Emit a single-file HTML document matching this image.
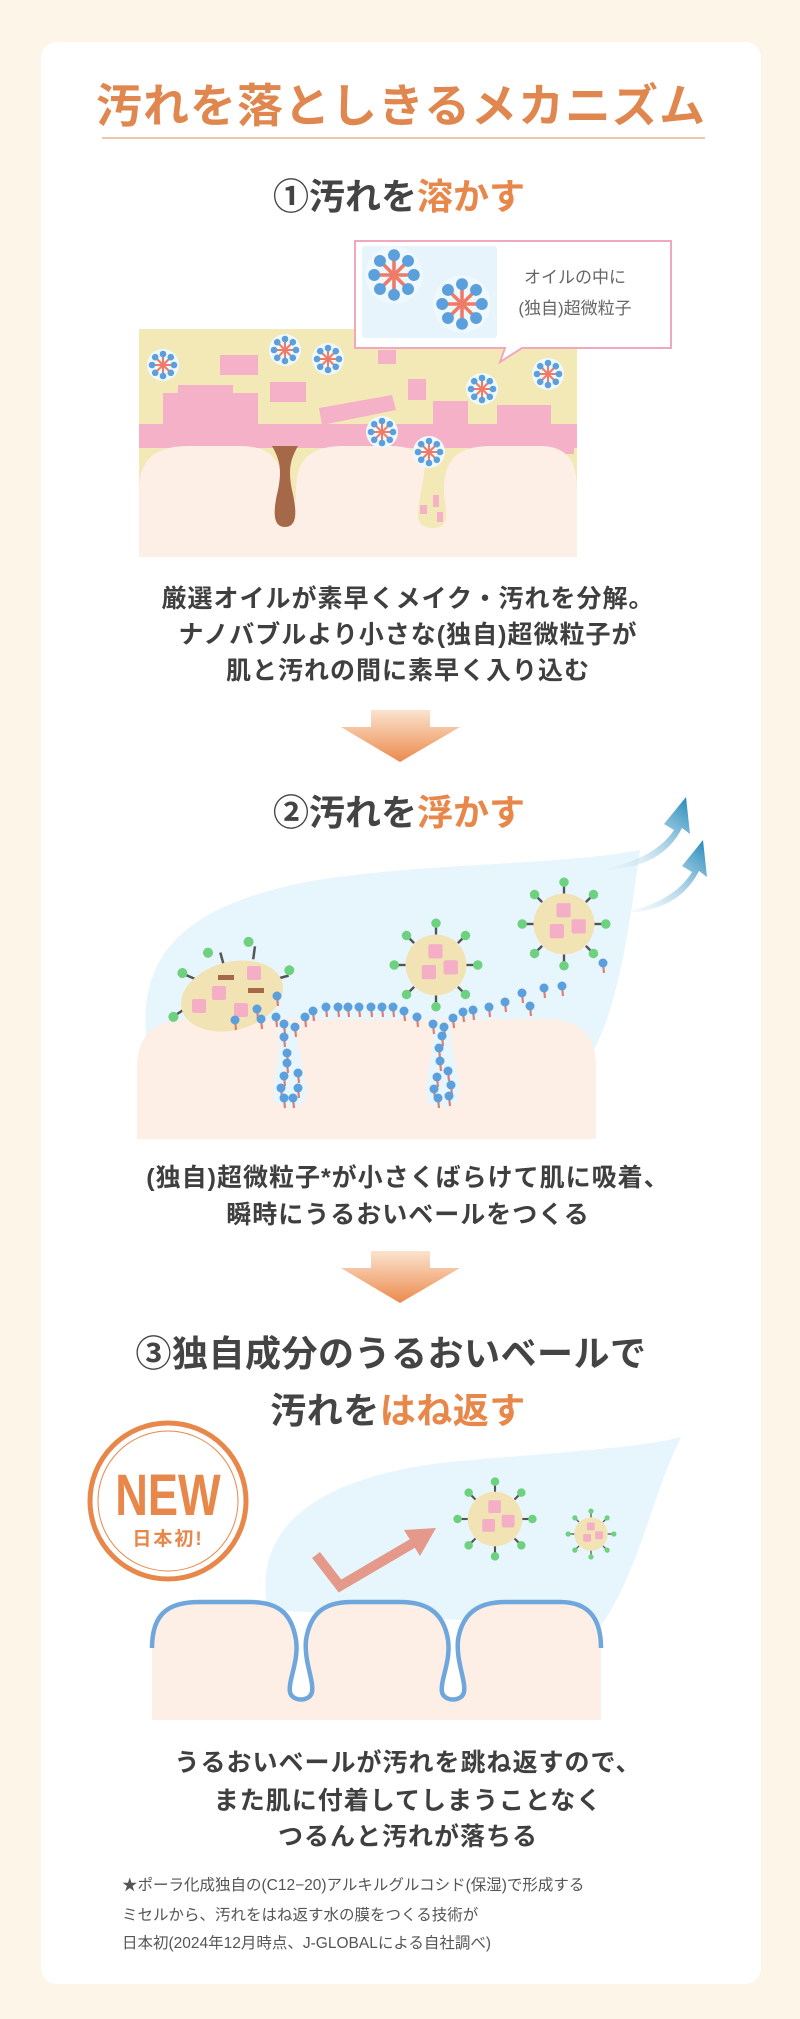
<!DOCTYPE html>
<html><head><meta charset="utf-8"><style>
html,body{margin:0;padding:0;background:#fdf6e8;}
svg{display:block}
text{font-family:"Liberation Sans","Noto Sans CJK JP",sans-serif;}
</style></head><body>
<svg width="800" height="2019" viewBox="0 0 800 2019" xmlns="http://www.w3.org/2000/svg">
<defs>
<g id="m">
 <circle r="16" fill="#eef8fd"/>
 <g stroke="#ee7a68" stroke-width="2">
  <line x1="-10" y1="0" x2="10" y2="0"/><line x1="0" y1="-10" x2="0" y2="10"/>
  <line x1="-7" y1="-7" x2="7" y2="7"/><line x1="-7" y1="7" x2="7" y2="-7"/>
 </g>
 <g fill="#5b9fdc">
  <circle cx="11" cy="0" r="3.3"/><circle cx="-11" cy="0" r="3.3"/><circle cx="0" cy="11" r="3.3"/><circle cx="0" cy="-11" r="3.3"/>
  <circle cx="7.8" cy="7.8" r="3.3"/><circle cx="-7.8" cy="7.8" r="3.3"/><circle cx="7.8" cy="-7.8" r="3.3"/><circle cx="-7.8" cy="-7.8" r="3.3"/>
 </g>
</g>
<g id="p">
 <g stroke="#555" stroke-width="2.5">
  <line x1="0" y1="-32" x2="0" y2="-42"/><line x1="0" y1="32" x2="0" y2="42"/>
  <line x1="-32" y1="0" x2="-42" y2="0"/><line x1="32" y1="0" x2="42" y2="0"/>
  <line x1="23" y1="23" x2="30" y2="30"/><line x1="-23" y1="23" x2="-30" y2="30"/>
  <line x1="23" y1="-23" x2="30" y2="-30"/><line x1="-23" y1="-23" x2="-30" y2="-30"/>
 </g>
 <circle r="32" fill="#f1e3b3"/>
 <g fill="#6dd17f">
  <circle cx="0" cy="-44" r="5"/><circle cx="0" cy="44" r="5"/><circle cx="-44" cy="0" r="5"/><circle cx="44" cy="0" r="5"/>
  <circle cx="31" cy="31" r="5"/><circle cx="-31" cy="31" r="5"/><circle cx="31" cy="-31" r="5"/><circle cx="-31" cy="-31" r="5"/>
 </g>
 <g fill="#f4afc6">
  <rect x="-8" y="-22" width="15" height="15" rx="2"/><rect x="-15" y="0" width="15" height="15" rx="2"/><rect x="8" y="-5" width="15" height="15" rx="2"/>
 </g>
</g>
<g id="d"><line x1="0" y1="0" x2="1" y2="10" stroke="#e07f6e" stroke-width="2.2"/><circle r="4.5" fill="#5b9fdc"/></g>
<linearGradient id="ga" x1="0" y1="0" x2="0" y2="1"><stop offset="0" stop-color="#fbe3cf"/><stop offset="1" stop-color="#ec8a4c"/></linearGradient>
<linearGradient id="gb" x1="0" y1="1" x2="1" y2="0"><stop offset="0" stop-color="#e8f4fb" stop-opacity="0.2"/><stop offset="1" stop-color="#1e86b8"/></linearGradient>
</defs>

<rect x="41" y="42" width="720" height="1942" rx="16" fill="#fff"/>

<text x="401" y="122" text-anchor="middle" font-size="46" font-weight="bold" fill="#e0874f" letter-spacing="1">汚れを落としきるメカニズム</text>
<line x1="102" y1="138" x2="705" y2="138" stroke="#e8b48e" stroke-width="1.5"/>

<text x="399" y="209" text-anchor="middle" font-size="36" font-weight="bold" fill="#444">①汚れを<tspan fill="#e8874a">溶かす</tspan></text>

<!-- illustration 1 -->
<rect x="139" y="329" width="438" height="228" fill="#f3e9b7"/>
<g fill="#f4b1c8">
 <rect x="163" y="393" width="95" height="55"/><rect x="178" y="385" width="55" height="10"/>
 <rect x="139" y="424" width="438" height="24"/>
 <rect x="220" y="355" width="38" height="20"/><rect x="270" y="382" width="36" height="20"/>
 <rect x="378" y="350" width="18" height="14"/><rect x="408" y="379" width="18" height="21"/>
 <rect x="433" y="401" width="35" height="23"/><rect x="497" y="405" width="54" height="20"/>
 <rect x="469" y="424" width="105" height="30"/>
 <polygon points="319,408 392,395 396,410 322,425"/>
</g>
<path d="M139,557 L139,490 C139,455 160,446 190,446 L240,446 C270,446 283,460 283,490 L283,557 Z" fill="#fdeee6"/>
<path d="M296,557 L296,490 C296,455 315,446 345,446 L390,446 C420,446 431,460 431,490 L431,557 Z" fill="#fdeee6"/>
<path d="M444,557 L444,490 C444,455 462,446 492,446 L540,446 C570,446 577,465 577,490 L577,557 Z" fill="#fdeee6"/>
<rect x="139" y="500" width="438" height="57" fill="#fdeee6"/>
<path d="M272,446 L298,446 C290,460 288,470 292,490 C298,515 296,527 285,527 C274,527 272,515 278,490 C282,470 280,460 272,446 Z" fill="#a5694a"/>
<path d="M425,460 L440,460 C440,480 446,500 446,515 C446,525 440,528 432,528 C424,528 418,524 418,515 C418,500 425,480 425,460 Z" fill="#f3e9b7"/>
<rect x="433" y="495" width="6" height="12" fill="#f4b1c8"/><rect x="420" y="505" width="7" height="9" fill="#f4b1c8"/><rect x="437" y="512" width="6" height="10" fill="#f4b1c8"/>
<use href="#m" transform="translate(163,365)"/><use href="#m" transform="translate(285,350)"/>
<use href="#m" transform="translate(328,359)"/><use href="#m" transform="translate(482,389)"/>
<use href="#m" transform="translate(548,374)"/><use href="#m" transform="translate(382,432)"/>
<use href="#m" transform="translate(429,452)"/>

<!-- callout -->
<path d="M355,241 L671,241 L671,348 L522,348 L500,362 L505,348 L355,348 Z" fill="#fff" stroke="#f0a8bf" stroke-width="2"/>
<rect x="362" y="246" width="135" height="92" rx="3" fill="#e7f4fb"/>
<use href="#m" transform="translate(394,275) scale(1.8)"/>
<use href="#m" transform="translate(462,304) scale(1.8)"/>
<text x="575" y="283" text-anchor="middle" font-size="17" fill="#666">オイルの中に</text>
<text x="575" y="314" text-anchor="middle" font-size="17" fill="#666">(独自)超微粒子</text>

<g font-size="25" font-weight="bold" fill="#3f3f3f" text-anchor="middle" letter-spacing="1">
<text x="408" y="607">厳選オイルが素早くメイク・汚れを分解。</text>
<text x="408" y="643">ナノバブルより小さな(独自)超微粒子が</text>
<text x="408" y="679">肌と汚れの間に素早く入り込む</text>
</g>

<!-- arrow 1 -->
<path d="M371,710 L430,710 L430,727 L460,727 L400,762 L341,727 L371,727 Z" fill="url(#ga)"/>

<text x="399" y="825" text-anchor="middle" font-size="36" font-weight="bold" fill="#444">②汚れを<tspan fill="#e8874a">浮かす</tspan></text>

<!-- illustration 2 -->
<path d="M147,1045 C135,950 190,900 330,878 C450,862 560,865 640,850 C630,920 620,1000 594,1050 Z" fill="#e7f5fc"/>
<path d="M600,870 C640,862 662,848 674,830 L664,824 L686,797 L690,834 L682,828 C668,856 640,870 600,870 Z" fill="url(#gb)"/>
<path d="M620,913 C655,907 680,892 692,872 L682,866 L703,840 L707,877 L699,871 C685,898 660,913 620,913 Z" fill="url(#gb)"/>
<path d="M137,1139 L137,1068 C137,1035 155,1019 190,1019 L545,1019 C580,1019 596,1035 596,1068 L596,1139 Z" fill="#fdeee6"/>
<path d="M278,1022 L296,1022 C296,1050 308,1080 306,1098 C304,1110 276,1110 274,1098 C272,1080 282,1050 278,1022 Z" fill="#e7f5fc"/>
<path d="M432,1022 L450,1022 C450,1050 462,1080 458,1098 C456,1110 428,1110 426,1098 C424,1080 436,1050 432,1022 Z" fill="#e7f5fc"/>
<g transform="translate(232,996) rotate(-15)">
 <g stroke="#555" stroke-width="2.5"><line x1="-48" y1="0" x2="-60" y2="4"/><line x1="-30" y1="-25" x2="-40" y2="-33"/><line x1="0" y1="-33" x2="0" y2="-45"/><line x1="30" y1="-30" x2="35" y2="-42"/><line x1="48" y1="-5" x2="60" y2="-5"/></g>
 <ellipse rx="52" ry="34" fill="#f1e3b3"/>
 <g fill="#6dd17f"><circle cx="-62" cy="5" r="5"/><circle cx="-42" cy="-35" r="5"/><circle cx="-12" cy="-48" r="5"/><circle cx="30" cy="-48" r="5"/><circle cx="62" cy="-10" r="5"/></g>
</g>
<g fill="#f4afc6"><rect x="192" y="999" width="14" height="14" rx="2"/><rect x="212" y="986" width="14" height="14" rx="2"/><rect x="234" y="1003" width="14" height="14" rx="2"/><rect x="247" y="966" width="14" height="14" rx="2"/></g>
<g fill="#a5694a"><rect x="218" y="975" width="16" height="5"/><rect x="248" y="988" width="16" height="5"/></g>
<use href="#p" transform="translate(436,965) scale(0.95)"/>
<use href="#p" transform="translate(564,924) scale(0.95)"/>
<g>
<use href="#d" x="305" y="1017"/><use href="#d" x="313" y="1011"/><use href="#d" x="326" y="1007"/><use href="#d" x="338" y="1007"/><use href="#d" x="348" y="1007"/><use href="#d" x="359" y="1007"/><use href="#d" x="371" y="1007"/><use href="#d" x="382" y="1007"/><use href="#d" x="393" y="1007"/><use href="#d" x="404" y="1011"/><use href="#d" x="417" y="1017"/>
<use href="#d" x="453" y="1018"/><use href="#d" x="463" y="1012"/><use href="#d" x="473" y="1010"/><use href="#d" x="489" y="1007"/><use href="#d" x="505" y="1002"/><use href="#d" x="522" y="993"/><use href="#d" x="544" y="988"/><use href="#d" x="562" y="986"/><use href="#d" x="530" y="1006"/><use href="#d" x="603" y="963"/>
<use href="#d" x="277" y="996"/><use href="#d" x="257" y="1009"/><use href="#d" x="261" y="1019"/><use href="#d" x="235" y="1020"/><use href="#d" x="276" y="1017"/><use href="#d" x="284" y="1024"/><use href="#d" x="295" y="1027"/><use href="#d" x="284" y="1037"/><use href="#d" x="287" y="1053"/><use href="#d" x="287" y="1063"/><use href="#d" x="284" y="1076"/><use href="#d" x="298" y="1073"/><use href="#d" x="281" y="1088"/><use href="#d" x="298" y="1088"/><use href="#d" x="284" y="1098"/><use href="#d" x="293" y="1098"/>
<use href="#d" x="433" y="1024"/><use href="#d" x="444" y="1027"/><use href="#d" x="442" y="1036"/><use href="#d" x="439" y="1048"/><use href="#d" x="440" y="1061"/><use href="#d" x="437" y="1077"/><use href="#d" x="448" y="1071"/><use href="#d" x="434" y="1089"/><use href="#d" x="451" y="1085"/><use href="#d" x="438" y="1098"/><use href="#d" x="449" y="1096"/>
</g>

<g font-size="25" font-weight="bold" fill="#3f3f3f" text-anchor="middle" letter-spacing="1">
<text x="408" y="1186">(独自)超微粒子*が小さくばらけて肌に吸着、</text>
<text x="408" y="1223">瞬時にうるおいベールをつくる</text>
</g>

<!-- arrow 2 -->
<path d="M371,1251 L430,1251 L430,1268 L460,1268 L400,1303 L341,1268 L371,1268 Z" fill="url(#ga)"/>

<g font-size="36" font-weight="bold" fill="#444" text-anchor="middle" letter-spacing="0.5">
<text x="391" y="1366">③独自成分のうるおいベールで</text>
<text x="398" y="1423">汚れを<tspan fill="#e8874a">はね返す</tspan></text>
</g>

<!-- illustration 3 -->
<path d="M268,1610 C250,1520 330,1475 450,1462 C560,1452 640,1448 681,1437 C650,1500 640,1570 600,1627 Z" fill="#e7f5fc"/>
<path d="M152,1720 L152,1640 C152,1612 170,1602 200,1602 L250,1602 C280,1602 292,1615 296,1640 C299,1662 288,1680 290,1692 C292,1702 310,1702 312,1692 C314,1680 304,1662 306,1640 C310,1615 322,1602 352,1602 L400,1602 C430,1602 444,1615 448,1640 C451,1662 440,1680 442,1692 C444,1702 462,1702 464,1692 C466,1680 456,1662 458,1640 C462,1615 476,1602 506,1602 L560,1602 C590,1602 601,1620 601,1640 L601,1720 Z" fill="#fdeee6"/>
<path d="M152,1648 C152,1612 170,1602 200,1602 L250,1602 C280,1602 292,1615 296,1640 C299,1662 288,1680 290,1692 C292,1702 310,1702 312,1692 C314,1680 304,1662 306,1640 C310,1615 322,1602 352,1602 L400,1602 C430,1602 444,1615 448,1640 C451,1662 440,1680 442,1692 C444,1702 462,1702 464,1692 C466,1680 456,1662 458,1640 C462,1615 476,1602 506,1602 L560,1602 C590,1602 601,1620 601,1648" fill="none" stroke="#6fa7dc" stroke-width="4.5"/>
<polyline points="316,1555 340,1586 420,1539" fill="none" stroke="#e4998a" stroke-width="10"/>
<polygon points="436,1528 404,1530 420,1556" fill="#e4998a"/>
<use href="#p" transform="translate(495,1519) scale(0.85)"/>
<use href="#p" transform="translate(591,1534) scale(0.52)"/>

<!-- NEW badge -->
<circle cx="168" cy="1501" r="78" fill="#fff" stroke="#e8874a" stroke-width="5"/>
<circle cx="168" cy="1501" r="70" fill="none" stroke="#e8874a" stroke-width="1"/>
<text x="168" y="1515" text-anchor="middle" font-size="58" font-weight="bold" fill="#e8874a" transform="translate(168,1515) scale(0.78,1) translate(-168,-1515)">NEW</text>
<text x="168" y="1545" text-anchor="middle" font-size="19" font-weight="bold" fill="#e8874a" letter-spacing="2">日本初!</text>

<g font-size="25" font-weight="bold" fill="#3f3f3f" text-anchor="middle" letter-spacing="1">
<text x="408" y="1771">うるおいベールが汚れを跳ね返すので、</text>
<text x="408" y="1809">また肌に付着してしまうことなく</text>
<text x="408" y="1845">つるんと汚れが落ちる</text>
</g>
<g font-size="15.5" fill="#555">
<text x="122" y="1890">★ポーラ化成独自の(C12−20)アルキルグルコシド(保湿)で形成する</text>
<text x="122" y="1920">ミセルから、汚れをはね返す水の膜をつくる技術が</text>
<text x="122" y="1948">日本初(2024年12月時点、J-GLOBALによる自社調べ)</text>
</g>
</svg>
</body></html>
